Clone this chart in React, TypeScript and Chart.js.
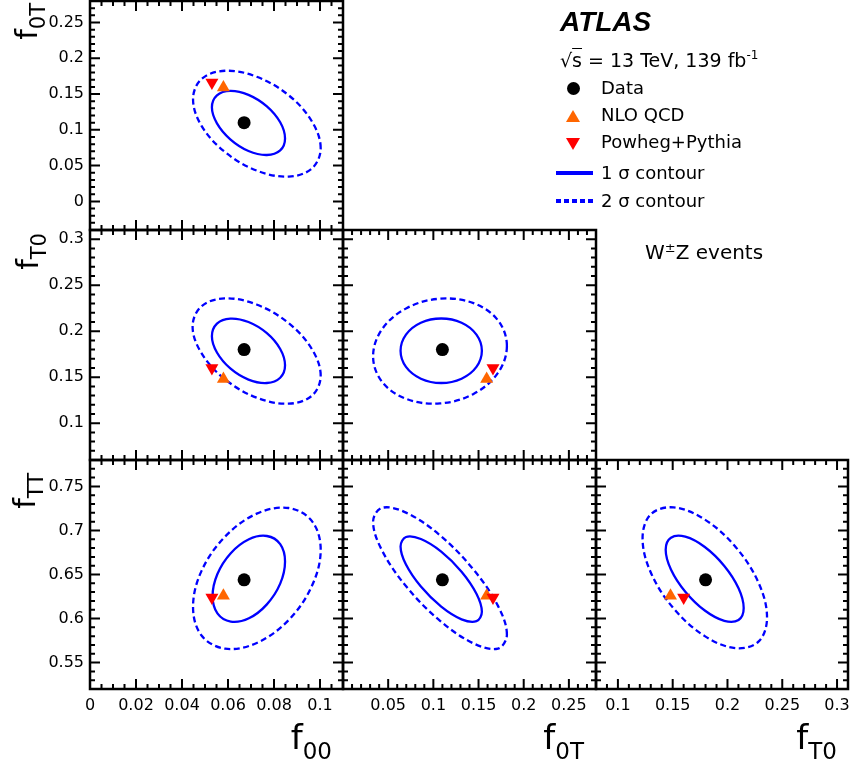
import React, { useEffect, useRef } from "react";
import { Chart, registerables } from "chart.js";

Chart.register(...registerables);

// ---------------- data ----------------
const parameterNames = ["f00", "f0T", "fT0", "fTT"];
const dataValues = [0.067, 0.11, 0.18, 0.644];
const nloQcdValues = [0.058, 0.159, 0.148, 0.626];
const powhegPythiaValues = [0.053, 0.166, 0.16, 0.624];

// axis ranges
const f00XRange = [0, 0.11];
const f0TXRange = [0, 0.28];
const fT0XRange = [0.08, 0.31];
const f0TYRange = [-0.04, 0.28];
const fT0YRange = [0.06, 0.31];
const fTTYRange = [0.52, 0.78];

// tick labels
const f00TickLabels = [0, 0.02, 0.04, 0.06, 0.08, 0.1];
const f0TXTickLabels = [0.05, 0.1, 0.15, 0.2, 0.25];
const fT0XTickLabels = [0.1, 0.15, 0.2, 0.25, 0.3];
const f0TYTickLabels = [0, 0.05, 0.1, 0.15, 0.2, 0.25];
const fT0YTickLabels = [0.1, 0.15, 0.2, 0.25, 0.3];
const fTTYTickLabels = [0.55, 0.6, 0.65, 0.7, 0.75];

// contours (x, y)
const contour1s_f00_f0T = [
  [0.0848, 0.088], [0.0827, 0.1105], [0.0769, 0.1328], [0.0689, 0.1489],
  [0.061, 0.1545], [0.0552, 0.1482], [0.053, 0.1314], [0.0552, 0.109],
  [0.061, 0.0867], [0.0689, 0.0704], [0.0769, 0.0648], [0.0827, 0.0713],
];
const contour2s_f00_f0T = [
  [0.1003, 0.0742], [0.0965, 0.1116], [0.0864, 0.1482], [0.0725, 0.1741],
  [0.0587, 0.1825], [0.0485, 0.171], [0.0448, 0.1429], [0.0485, 0.1055],
  [0.0587, 0.0689], [0.0725, 0.043], [0.0864, 0.0346], [0.0965, 0.0461],
];
const contour1s_f00_fT0 = [
  [0.0848, 0.1629], [0.0827, 0.1807], [0.0769, 0.1979], [0.0689, 0.21],
  [0.061, 0.2137], [0.0552, 0.2082], [0.053, 0.1945], [0.0552, 0.1768],
  [0.061, 0.1595], [0.0689, 0.1474], [0.0769, 0.1437], [0.0827, 0.1494],
];
const contour2s_f00_fT0 = [
  [0.1003, 0.1516], [0.0965, 0.1804], [0.0864, 0.2087], [0.0724, 0.229],
  [0.0585, 0.2357], [0.0484, 0.2269], [0.0446, 0.2052], [0.0484, 0.1764],
  [0.0585, 0.1481], [0.0724, 0.1278], [0.0864, 0.1212], [0.0965, 0.1299],
];
const contour1s_f0T_fT0 = [
  [0.1537, 0.1787], [0.1477, 0.1963], [0.1312, 0.2092], [0.1087, 0.2138],
  [0.0862, 0.2092], [0.0697, 0.1963], [0.0637, 0.1787], [0.0697, 0.1612],
  [0.0862, 0.1484], [0.1087, 0.1437], [0.1312, 0.1484], [0.1477, 0.1612],
];
const contour2s_f0T_fT0 = [
  [0.1814, 0.184], [0.1715, 0.2118], [0.1444, 0.2305], [0.1074, 0.2353],
  [0.0703, 0.225], [0.0432, 0.2021], [0.0333, 0.1728], [0.0432, 0.145],
  [0.0703, 0.1263], [0.1074, 0.1215], [0.1444, 0.1318], [0.1715, 0.1547],
];
const contour1s_f00_fTT = [
  [0.0848, 0.6647], [0.0827, 0.6844], [0.0769, 0.6937], [0.0691, 0.69],
  [0.0612, 0.6742], [0.0554, 0.6506], [0.0533, 0.6255], [0.0554, 0.6058],
  [0.0612, 0.5965], [0.0691, 0.6003], [0.0769, 0.6161], [0.0827, 0.6396],
];
const contour2s_f00_fTT = [
  [0.1003, 0.6783], [0.0965, 0.7106], [0.0864, 0.7255], [0.0725, 0.7191],
  [0.0587, 0.6929], [0.0485, 0.6541], [0.0448, 0.613], [0.0485, 0.5807],
  [0.0587, 0.5658], [0.0725, 0.5723], [0.0864, 0.5984], [0.0965, 0.6372],
];
const contour1s_f0T_fTT = [
  [0.1537, 0.6076], [0.1477, 0.6281], [0.1312, 0.6532], [0.1087, 0.676],
  [0.0862, 0.6903], [0.0697, 0.6926], [0.0637, 0.6819], [0.0697, 0.6613],
  [0.0862, 0.6363], [0.1087, 0.6135], [0.1312, 0.5991], [0.1477, 0.597],
];
const contour2s_f0T_fTT = [
  [0.1814, 0.5816], [0.1715, 0.6144], [0.1444, 0.6556], [0.1074, 0.6944],
  [0.0703, 0.72], [0.0432, 0.7257], [0.0333, 0.7102], [0.0432, 0.6773],
  [0.0703, 0.636], [0.1074, 0.5974], [0.1444, 0.5718], [0.1715, 0.5659],
];
const contour1s_fT0_fTT = [
  [0.2148, 0.612], [0.2101, 0.6344], [0.1971, 0.6597], [0.1793, 0.6812],
  [0.1615, 0.6929], [0.1484, 0.6918], [0.1436, 0.6782], [0.1484, 0.6558],
  [0.1615, 0.6305], [0.1793, 0.6091], [0.1971, 0.5974], [0.2101, 0.5984],
];
const contour2s_fT0_fTT = [
  [0.2361, 0.6011], [0.2285, 0.6402], [0.2076, 0.681], [0.1793, 0.7124],
  [0.1508, 0.7262], [0.13, 0.7184], [0.1225, 0.6914], [0.13, 0.6523],
  [0.1508, 0.6115], [0.1793, 0.58], [0.2076, 0.5664], [0.2285, 0.574],
];

// ---------------- layout / style ----------------
const PAGE_W = 852;
const PAGE_H = 767;
const M = 60;
const CW = PAGE_W + 2 * M;
const CH = PAGE_H + 2 * M;
const colEdges = [90, 343, 596, 848];
const rowEdges = [1, 230, 460, 689];
const BLUE = "#0000ff";
const ORANGE = "#ff6600";
const RED = "#ff0000";
const TICK_FONT = { family: "'DejaVu Sans'", size: 16 };

type AxisSpec = { range: number[]; labels: number[]; major: number; minor: number };

const xAxes: Record<string, AxisSpec> = {
  f00: { range: f00XRange, labels: f00TickLabels, major: 0.02, minor: 0.005 },
  f0T: { range: f0TXRange, labels: f0TXTickLabels, major: 0.05, minor: 0.01 },
  fT0: { range: fT0XRange, labels: fT0XTickLabels, major: 0.05, minor: 0.01 },
};
const yAxes: Record<string, AxisSpec> = {
  f0T: { range: f0TYRange, labels: f0TYTickLabels, major: 0.05, minor: 0.01 },
  fT0: { range: fT0YRange, labels: fT0YTickLabels, major: 0.05, minor: 0.01 },
  fTT: { range: fTTYRange, labels: fTTYTickLabels, major: 0.05, minor: 0.01 },
};

const panels = [
  { row: 0, col: 0, x: "f00", y: "f0T", c1: contour1s_f00_f0T, c2: contour2s_f00_f0T },
  { row: 1, col: 0, x: "f00", y: "fT0", c1: contour1s_f00_fT0, c2: contour2s_f00_fT0 },
  { row: 1, col: 1, x: "f0T", y: "fT0", c1: contour1s_f0T_fT0, c2: contour2s_f0T_fT0 },
  { row: 2, col: 0, x: "f00", y: "fTT", c1: contour1s_f00_fTT, c2: contour2s_f00_fTT },
  { row: 2, col: 1, x: "f0T", y: "fTT", c1: contour1s_f0T_fTT, c2: contour2s_f0T_fTT },
  { row: 2, col: 2, x: "fT0", y: "fTT", c1: contour1s_fT0_fTT, c2: contour2s_fT0_fTT },
];

function stepValues(step: number, min: number, max: number) {
  const out: number[] = [];
  const k0 = Math.ceil(min / step - 1e-6);
  const k1 = Math.floor(max / step + 1e-6);
  for (let k = k0; k <= k1; k++) out.push(k * step);
  return out;
}

const loopPlugin = {
  id: "closedLoop",
  afterDatasetsUpdate(chart: any) {
    chart.data.datasets.forEach((ds: any, i: number) => {
      if (!ds.closedContour) return;
      const line: any = chart.getDatasetMeta(i).dataset;
      if (!line) return;
      line._loop = true;
      line._fullLoop = true;
      line._pointsUpdated = false;
      delete line._segments;
      delete line._path;
    });
  },
};

function makeFramePlugin(xa: AxisSpec, ya: AxisSpec) {
  return {
    id: "rootFrame",
    afterDraw(chart: any) {
      const { ctx, chartArea: a, scales } = chart;
      const xs = scales.x;
      const ys = scales.y;
      ctx.save();
      ctx.strokeStyle = "#000";
      ctx.lineWidth = 2;
      ctx.beginPath();
      for (const [step, len] of [[xa.minor, 5], [xa.major, 10]] as [number, number][]) {
        for (const v of stepValues(step, xa.range[0], xa.range[1])) {
          const px = xs.getPixelForValue(v);
          ctx.moveTo(px, a.bottom);
          ctx.lineTo(px, a.bottom - len);
          ctx.moveTo(px, a.top);
          ctx.lineTo(px, a.top + len);
        }
      }
      for (const [step, len] of [[ya.minor, 5], [ya.major, 10]] as [number, number][]) {
        for (const v of stepValues(step, ya.range[0], ya.range[1])) {
          const py = ys.getPixelForValue(v);
          ctx.moveTo(a.left, py);
          ctx.lineTo(a.left + len, py);
          ctx.moveTo(a.right, py);
          ctx.lineTo(a.right - len, py);
        }
      }
      ctx.stroke();
      ctx.lineWidth = 2.5;
      ctx.strokeRect(a.left, a.top, a.right - a.left, a.bottom - a.top);
      ctx.restore();
    },
  };
}

function Panel({ spec }: { spec: (typeof panels)[number] }) {
  const ref = useRef<HTMLCanvasElement>(null);
  useEffect(() => {
    const xa = xAxes[spec.x];
    const ya = yAxes[spec.y];
    const xi = parameterNames.indexOf(spec.x);
    const yi = parameterNames.indexOf(spec.y);
    const showY = spec.col === 0;
    const showX = spec.row === 2;
    const L = colEdges[spec.col] + M;
    const R = colEdges[spec.col + 1] + M;
    const T = rowEdges[spec.row] + M;
    const B = rowEdges[spec.row + 1] + M;
    const YW = 70;
    const XH = 40;
    const pt = (vals: number[]) => [{ x: vals[xi], y: vals[yi] }];
    const toXY = (arr: number[][]) => arr.map(([x, y]) => ({ x, y }));
    const contourStyle = {
      borderColor: BLUE,
      borderWidth: 2.3,
      pointRadius: 0,
      pointHitRadius: 0,
      tension: 0.36,
      fill: false,
      closedContour: true,
    };
    const chart = new Chart(ref.current as HTMLCanvasElement, {
      type: "line",
      data: {
        datasets: [
          {
            label: "Data",
            data: pt(dataValues),
            showLine: false,
            pointStyle: "circle",
            pointRadius: 6.5,
            pointBackgroundColor: "#000",
            pointBorderColor: "#000",
            pointBorderWidth: 0,
          },
          {
            label: "Powheg+Pythia",
            data: pt(powhegPythiaValues),
            showLine: false,
            pointStyle: "triangle",
            pointRotation: 180,
            pointRadius: 7.5,
            pointBackgroundColor: RED,
            pointBorderColor: RED,
            pointBorderWidth: 0,
          },
          {
            label: "NLO QCD",
            data: pt(nloQcdValues),
            showLine: false,
            pointStyle: "triangle",
            pointRadius: 7.5,
            pointBackgroundColor: ORANGE,
            pointBorderColor: ORANGE,
            pointBorderWidth: 0,
          },
          { label: "1 σ contour", data: toXY(spec.c1), ...contourStyle } as any,
          { label: "2 σ contour", data: toXY(spec.c2), borderDash: [6, 3.5], ...contourStyle } as any,
        ],
      },
      options: {
        responsive: false,
        animation: false,
        events: [],
        layout: {
          padding: {
            left: showY ? L - YW : L,
            right: CW - R,
            top: T,
            bottom: showX ? CH - B - XH : CH - B,
          },
        },
        plugins: {
          legend: { display: false },
          tooltip: { enabled: false },
          title: { display: false },
        },
        scales: {
          x: {
            type: "linear",
            min: xa.range[0],
            max: xa.range[1],
            bounds: "data",
            display: showX,
            grid: { display: false, drawTicks: false },
            border: { display: false },
            ticks: {
              font: TICK_FONT,
              color: "#000",
              padding: 7,
              autoSkip: false,
              maxRotation: 0,
              minRotation: 0,
              callback: (v: any) => String(v),
            },
            afterBuildTicks: (s: any) => {
              s.ticks = xa.labels.map((v) => ({ value: v }));
            },
            ...(showX ? { afterFit: (s: any) => { s.height = XH; } } : {}),
          },
          y: {
            type: "linear",
            min: ya.range[0],
            max: ya.range[1],
            bounds: "data",
            display: showY,
            grid: { display: false, drawTicks: false },
            border: { display: false },
            ticks: {
              font: TICK_FONT,
              color: "#000",
              padding: 6,
              autoSkip: false,
              callback: (v: any) => String(v),
            },
            afterBuildTicks: (s: any) => {
              s.ticks = ya.labels.map((v) => ({ value: v }));
            },
            ...(showY ? { afterFit: (s: any) => { s.width = YW; } } : {}),
          },
        },
      } as any,
      plugins: [loopPlugin, makeFramePlugin(xa, ya)],
    });
    return () => chart.destroy();
  }, []);
  return (
    <canvas
      ref={ref}
      width={CW}
      height={CH}
      style={{ position: "absolute", left: -M, top: -M, width: CW, height: CH }}
    />
  );
}

const FONT = "'DejaVu Sans'";

function Text({ x, baseline, size, children, style }: any) {
  return (
    <div
      style={{
        position: "absolute",
        left: x,
        top: baseline - 0.846 * size,
        fontSize: size,
        lineHeight: `${size}px`,
        fontFamily: FONT,
        whiteSpace: "nowrap",
        color: "#000",
        ...style,
      }}
    >
      {children}
    </div>
  );
}

function XTitle({ sub, rightX }: { sub: string; rightX: number }) {
  const S1 = 34;
  const S2 = 23;
  const baseline = 749;
  return (
    <div
      style={{
        position: "absolute",
        right: PAGE_W - rightX,
        top: baseline - 0.846 * S1,
        fontSize: S1,
        lineHeight: `${S1}px`,
        fontFamily: FONT,
        whiteSpace: "nowrap",
      }}
    >
      f
      <span style={{ fontSize: S2, position: "relative", top: 10, lineHeight: 0 }}>{sub}</span>
    </div>
  );
}

function YTitle({ sub, baselineX, yEnd }: { sub: string; baselineX: number; yEnd: number }) {
  const S1 = 30;
  const S2 = 21;
  const x0 = baselineX - 0.846 * S1;
  return (
    <div
      style={{
        position: "absolute",
        right: PAGE_W - x0,
        top: yEnd,
        fontSize: S1,
        lineHeight: `${S1}px`,
        fontFamily: FONT,
        whiteSpace: "nowrap",
        transformOrigin: "top right",
        transform: "rotate(-90deg)",
      }}
    >
      f
      <span style={{ fontSize: S2, position: "relative", top: 8, lineHeight: 0 }}>{sub}</span>
    </div>
  );
}

export default function App() {
  return (
    <div
      style={{
        position: "absolute",
        left: 0,
        top: 0,
        width: PAGE_W,
        height: PAGE_H,
        overflow: "hidden",
        background: "#fff",
      }}
    >
      {panels.map((p, i) => (
        <Panel key={i} spec={p} />
      ))}

      <XTitle sub="00" rightX={332} />
      <XTitle sub="0T" rightX={584} />
      <XTitle sub="T0" rightX={837} />
      <YTitle sub="0T" baselineX={37} yEnd={3} />
      <YTitle sub="T0" baselineX={38} yEnd={233} />
      <YTitle sub="TT" baselineX={35} yEnd={473} />

      <Text
        x={560}
        baseline={31.7}
        size={28}
        style={{ fontFamily: "'Liberation Sans', Arial, sans-serif", fontWeight: "bold", fontStyle: "italic" }}
      >
        ATLAS
      </Text>
      <Text x={560} baseline={66.7} size={19}>
        √<span style={{ textDecoration: "overline" }}>s</span> = 13 TeV, 139 fb
        <span style={{ fontSize: 12, position: "relative", top: -8, lineHeight: 0 }}>-1</span>
      </Text>

      <div
        style={{
          position: "absolute",
          left: 573 - 6.5,
          top: 88 - 6.5,
          width: 13,
          height: 13,
          borderRadius: "50%",
          background: "#000",
        }}
      />
      <div
        style={{
          position: "absolute",
          left: 566,
          top: 110,
          width: 0,
          height: 0,
          borderLeft: "7px solid transparent",
          borderRight: "7px solid transparent",
          borderBottom: `12px solid ${ORANGE}`,
        }}
      />
      <div
        style={{
          position: "absolute",
          left: 566,
          top: 138,
          width: 0,
          height: 0,
          borderLeft: "7px solid transparent",
          borderRight: "7px solid transparent",
          borderTop: `12px solid ${RED}`,
        }}
      />
      <div style={{ position: "absolute", left: 556, top: 171, width: 37, height: 4, background: BLUE }} />
      <div
        style={{
          position: "absolute",
          left: 556,
          top: 199,
          width: 38,
          height: 4,
          background: `repeating-linear-gradient(to right, ${BLUE} 0px, ${BLUE} 5px, transparent 5px, transparent 8px)`,
        }}
      />
      <Text x={601} baseline={94.3} size={18}>Data</Text>
      <Text x={601} baseline={121.7} size={18}>NLO QCD</Text>
      <Text x={601} baseline={148.3} size={18}>Powheg+Pythia</Text>
      <Text x={601} baseline={179} size={18}>1 σ contour</Text>
      <Text x={601} baseline={207.3} size={18}>2 σ contour</Text>

      <Text x={645} baseline={259.3} size={20}>
        W<span style={{ fontSize: 13, position: "relative", top: -7, lineHeight: 0 }}>±</span>Z events
      </Text>
    </div>
  );
}
